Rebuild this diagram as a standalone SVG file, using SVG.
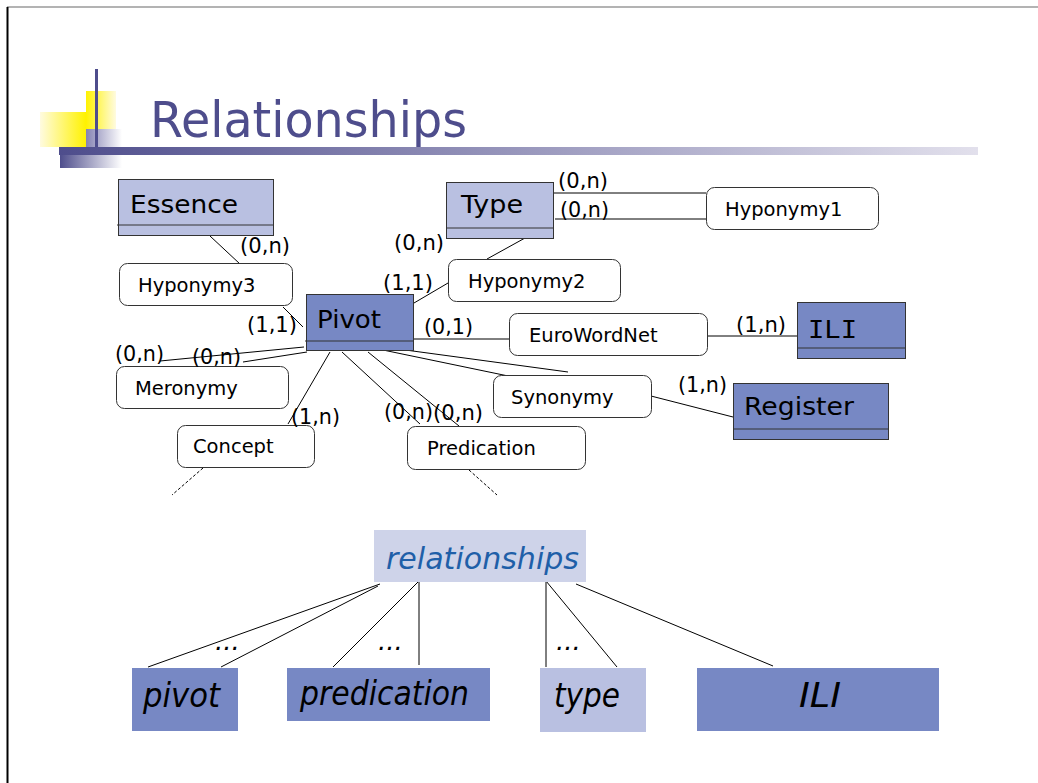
<svg xmlns="http://www.w3.org/2000/svg" width="1038" height="783" viewBox="0 0 1038 783">
<defs>
<linearGradient id="gYL" x1="0" y1="0" x2="1" y2="0"><stop offset="0" stop-color="#fffbe0"/><stop offset="1" stop-color="#fff200"/></linearGradient>
<linearGradient id="gYR" x1="0" y1="0" x2="1" y2="0"><stop offset="0" stop-color="#fff200"/><stop offset="1" stop-color="#fffbe0"/></linearGradient>
<linearGradient id="gP1" x1="0" y1="0" x2="1" y2="0"><stop offset="0" stop-color="#8583b3"/><stop offset="1" stop-color="#ffffff"/></linearGradient>
<linearGradient id="gP2" x1="0" y1="0" x2="1" y2="0"><stop offset="0" stop-color="#4e4d8c"/><stop offset="1" stop-color="#ffffff"/></linearGradient>
<linearGradient id="gBar" x1="0" y1="0" x2="1" y2="0"><stop offset="0" stop-color="#4e4d8c"/><stop offset="1" stop-color="#e2e0ec"/></linearGradient>
<style>
.ent{stroke:#333;stroke-width:1}
.light{fill:#b9c0e1}
.dark{fill:#7788c4}
.sep{stroke:#333;stroke-width:1}
.etxt{font-family:"DejaVu Sans",sans-serif;font-size:25px;fill:#000}
.mono{font-family:"DejaVu Sans Mono",monospace}
.rel{fill:#fff;stroke:#333;stroke-width:1}
.rtxt{font-family:"DejaVu Sans",sans-serif;font-size:19.5px;fill:#000}
.card{font-family:"DejaVu Sans",sans-serif;font-size:21px;fill:#000}
.ln{stroke:#000;stroke-width:1;fill:none}
.dash{stroke:#000;stroke-width:1;stroke-dasharray:3,2;fill:none}
.itx{font-family:"DejaVu Sans",sans-serif;font-style:italic;fill:#000}
</style>
</defs>
<rect width="1038" height="783" fill="#fff"/>
<!-- page frame -->
<line x1="7" y1="7" x2="1038" y2="7" stroke="#9a9a9a" stroke-width="1.5"/>
<line x1="7.5" y1="7" x2="7.5" y2="783" stroke="#000" stroke-width="2"/>
<!-- title decoration -->
<g id="title">
<rect x="40" y="112" width="46" height="35" fill="url(#gYL)"/>
<rect x="86" y="91" width="30" height="38" fill="url(#gYR)"/>
<rect x="86" y="129" width="36" height="18" fill="url(#gP1)"/>
<rect x="59" y="147" width="919" height="8" fill="url(#gBar)"/>
<rect x="60" y="155" width="62" height="13" fill="url(#gP2)"/>
<line x1="96.5" y1="69" x2="96.5" y2="147" stroke="#4e4d8c" stroke-width="3"/>
<text x="150" y="137" font-family="DejaVu Sans,sans-serif" font-size="50" fill="#4e4d8c" textLength="317" lengthAdjust="spacingAndGlyphs">Relationships</text>
</g>
<!-- connectors -->
<g id="connectors">
<line class="ln" x1="210" y1="236" x2="240" y2="264"/>
<line class="ln" x1="283" y1="307" x2="303" y2="327"/>
<line class="ln" x1="414" y1="303" x2="448" y2="283"/>
<line class="ln" x1="525" y1="238" x2="487" y2="259"/>
<line class="ln" x1="553" y1="193" x2="706" y2="193"/>
<line class="ln" x1="555" y1="219" x2="706" y2="219"/>
<line class="ln" x1="414" y1="339" x2="509" y2="339"/>
<line class="ln" x1="708" y1="336" x2="797" y2="336"/>
<line class="ln" x1="304" y1="347" x2="160" y2="361"/>
<line class="ln" x1="307" y1="352" x2="243" y2="362"/>
<line class="ln" x1="330" y1="352" x2="288" y2="424"/>
<line class="ln" x1="342" y1="352" x2="420" y2="424"/>
<line class="ln" x1="368" y1="352" x2="459" y2="426"/>
<line class="ln" x1="383" y1="350" x2="513" y2="377"/>
<line class="ln" x1="398" y1="349" x2="568" y2="372"/>
<line class="ln" x1="651" y1="396" x2="733" y2="417"/>
<line class="dash" x1="203" y1="468" x2="172" y2="495"/>
<line class="dash" x1="469" y1="470" x2="497" y2="495"/>
<line class="ln" x1="380" y1="584" x2="148" y2="667"/>
<line class="ln" x1="378" y1="586" x2="221" y2="667"/>
<line class="ln" x1="419" y1="581" x2="333" y2="667"/>
<line class="ln" x1="419" y1="581" x2="419" y2="665"/>
<line class="ln" x1="546" y1="581" x2="546" y2="667"/>
<line class="ln" x1="546" y1="581" x2="617" y2="667"/>
<line class="ln" x1="576" y1="584" x2="773" y2="666"/>
</g>
<!-- entities -->
<g id="essence">
<rect class="ent light" x="118.5" y="179.5" width="155" height="56"/>
<line class="sep" x1="117" y1="225" x2="273" y2="225"/>
<text class="etxt" x="130" y="213" textLength="108" lengthAdjust="spacingAndGlyphs">Essence</text>
</g>
<g id="type">
<rect class="ent light" x="446.5" y="182.5" width="107" height="56"/>
<line class="sep" x1="446" y1="228" x2="553" y2="228"/>
<text class="etxt" x="461" y="213" textLength="62" lengthAdjust="spacingAndGlyphs">Type</text>
</g>
<g id="pivot">
<rect class="ent dark" x="306.5" y="294.5" width="107" height="56"/>
<line class="sep" x1="305" y1="341" x2="413" y2="341"/>
<text class="etxt" x="317" y="328" textLength="64" lengthAdjust="spacingAndGlyphs">Pivot</text>
</g>
<g id="ili">
<rect class="ent dark" x="797.5" y="302.5" width="108" height="56"/>
<line class="sep" x1="797" y1="348" x2="905" y2="348"/>
<text class="etxt mono" x="808" y="338" textLength="49" lengthAdjust="spacingAndGlyphs">ILI</text>
</g>
<g id="register">
<rect class="ent dark" x="733.5" y="383.5" width="155" height="56"/>
<line class="sep" x1="733" y1="429" x2="888" y2="429"/>
<text class="etxt" x="744" y="415" textLength="110" lengthAdjust="spacingAndGlyphs">Register</text>
</g>
<!-- relationships -->
<g id="hyponymy1"><rect class="rel" x="706.5" y="187.5" width="172" height="42" rx="8"/><text class="rtxt" x="725" y="216">Hyponymy1</text></g>
<g id="hyponymy2"><rect class="rel" x="448.5" y="259.5" width="172" height="42" rx="8"/><text class="rtxt" x="468" y="288">Hyponymy2</text></g>
<g id="hyponymy3"><rect class="rel" x="119.5" y="263.5" width="173" height="42" rx="8"/><text class="rtxt" x="138" y="292">Hyponymy3</text></g>
<g id="eurowordnet"><rect class="rel" x="509.5" y="313.5" width="198" height="42" rx="8"/><text class="rtxt" x="529" y="342">EuroWordNet</text></g>
<g id="meronymy"><rect class="rel" x="116.5" y="366.5" width="172" height="42" rx="8"/><text class="rtxt" x="135" y="395">Meronymy</text></g>
<g id="synonymy"><rect class="rel" x="493.5" y="375.5" width="158" height="42" rx="8"/><text class="rtxt" x="511" y="404">Synonymy</text></g>
<g id="concept"><rect class="rel" x="177.5" y="425.5" width="137" height="42" rx="8"/><text class="rtxt" x="193" y="453">Concept</text></g>
<g id="predication"><rect class="rel" x="407.5" y="426.5" width="178" height="43" rx="8"/><text class="rtxt" x="427" y="455">Predication</text></g>
<!-- cardinalities -->
<g id="cardinalities">
<text class="card" x="240" y="253" textLength="50" lengthAdjust="spacingAndGlyphs">(0,n)</text>
<text class="card" x="394" y="250" textLength="50" lengthAdjust="spacingAndGlyphs">(0,n)</text>
<text class="card" x="383" y="290" textLength="50" lengthAdjust="spacingAndGlyphs">(1,1)</text>
<text class="card" x="247" y="332" textLength="50" lengthAdjust="spacingAndGlyphs">(1,1)</text>
<text class="card" x="424" y="334" textLength="49" lengthAdjust="spacingAndGlyphs">(0,1)</text>
<text class="card" x="558" y="188" textLength="50" lengthAdjust="spacingAndGlyphs">(0,n)</text>
<text class="card" x="560" y="217" textLength="49" lengthAdjust="spacingAndGlyphs">(0,n)</text>
<text class="card" x="736" y="332" textLength="50" lengthAdjust="spacingAndGlyphs">(1,n)</text>
<text class="card" x="115" y="361" textLength="49" lengthAdjust="spacingAndGlyphs">(0,n)</text>
<text class="card" x="192" y="364" textLength="49" lengthAdjust="spacingAndGlyphs">(0,n)</text>
<text class="card" x="291" y="424" textLength="49" lengthAdjust="spacingAndGlyphs">(1,n)</text>
<text class="card" x="384" y="419" textLength="49" lengthAdjust="spacingAndGlyphs">(0,n)</text>
<text class="card" x="433" y="420" textLength="50" lengthAdjust="spacingAndGlyphs">(0,n)</text>
<text class="card" x="678" y="392" textLength="49" lengthAdjust="spacingAndGlyphs">(1,n)</text>
</g>
<!-- lower tree -->
<g id="relationships-node">
<rect x="374" y="530" width="212" height="52" fill="#ced3e9"/>
<text class="itx" x="386" y="569" font-size="30" style="fill:#1f5fa8" textLength="193" lengthAdjust="spacingAndGlyphs">relationships</text>
</g>
<g id="pivot-node">
<rect x="132" y="668" width="106" height="63" fill="#7788c4"/>
<text class="itx" x="143" y="707" font-size="33" textLength="77" lengthAdjust="spacingAndGlyphs">pivot</text>
</g>
<g id="predication-node">
<rect x="287" y="668" width="203" height="53" fill="#7788c4"/>
<text class="itx" x="300" y="705" font-size="33" textLength="169" lengthAdjust="spacingAndGlyphs">predication</text>
</g>
<g id="type-node">
<rect x="540" y="668" width="106" height="64" fill="#b9c0e1"/>
<text class="itx" x="554" y="707" font-size="33" textLength="66" lengthAdjust="spacingAndGlyphs">type</text>
</g>
<g id="ili-node">
<rect x="697" y="668" width="242" height="63" fill="#7788c4"/>
<text class="itx" x="799" y="707" font-size="33" textLength="42" lengthAdjust="spacingAndGlyphs">ILI</text>
</g>
<g id="ellipses">
<text class="itx" x="215" y="650" font-size="26">...</text>
<text class="itx" x="378" y="650" font-size="26">...</text>
<text class="itx" x="556" y="650" font-size="26">...</text>
</g>
</svg>
